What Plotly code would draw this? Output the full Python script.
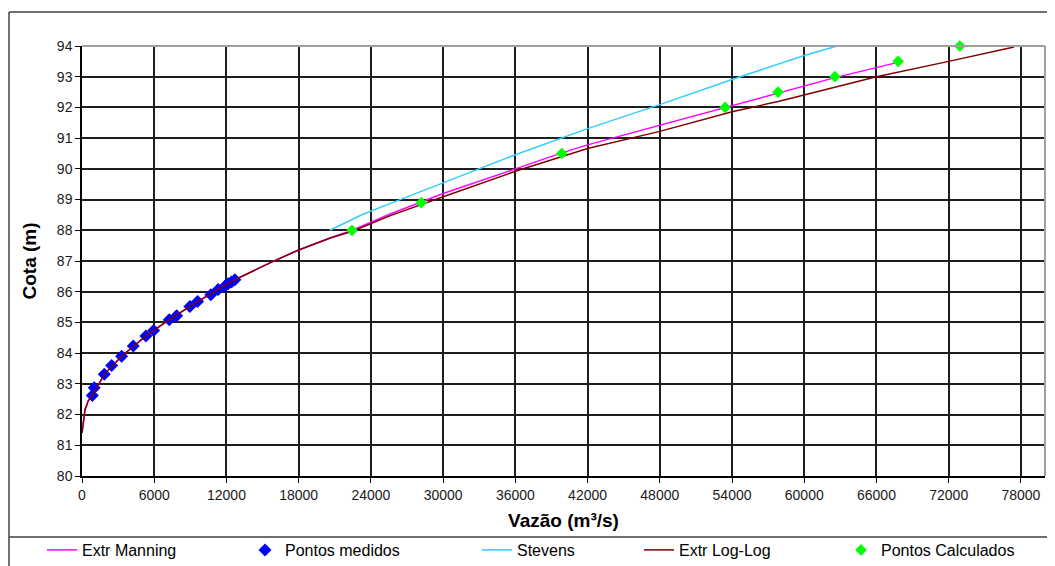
import plotly.graph_objects as go

# ---- data ----
manning_q = [0, 110, 250, 520, 855, 1850, 3290, 5310, 7250, 9600, 12700, 15880, 17950,
             20580, 22460, 25560, 28190, 30000, 36000, 39860, 42000, 48000, 53420, 57820,
             62550, 67600]
manning_h = [81.40, 81.83, 82.16, 82.45, 82.62, 83.31, 83.90, 84.56, 85.09, 85.68, 86.39,
             86.99, 87.35, 87.75, 88.00, 88.52, 88.92, 89.20, 90.00, 90.52, 90.78, 91.42,
             92.00, 92.46, 92.97, 93.45]

loglog_q = [0, 110, 250, 520, 855, 1850, 3290, 5310, 7250, 9600, 12700, 15880, 17950,
            20580, 22460, 25560, 28190, 30000, 36000, 39860, 42000, 48000, 54000, 57920,
            66000, 72000, 77430]
loglog_h = [81.40, 81.83, 82.16, 82.45, 82.62, 83.31, 83.90, 84.56, 85.09, 85.68, 86.39,
            86.99, 87.35, 87.74, 87.97, 88.47, 88.85, 89.09, 89.92, 90.40, 90.66, 91.22,
            91.86, 92.20, 93.00, 93.50, 93.97]

stevens_q = [20580, 23340, 26110, 30000, 36000, 42000, 48000, 54000, 60000, 63790]
stevens_h = [88.00, 88.52, 88.95, 89.54, 90.46, 91.31, 92.09, 92.91, 93.69, 94.12]

medidos_q = [855, 1020, 1850, 2460, 3290, 4260, 5310, 5950, 7250, 7860, 8960, 9600,
             10700, 11310, 11870, 12140, 12420, 12700]
medidos_h = [82.62, 82.87, 83.31, 83.60, 83.90, 84.23, 84.56, 84.74, 85.09, 85.22, 85.52,
             85.68, 85.90, 86.07, 86.18, 86.26, 86.32, 86.39]

calc_q = [22430, 28190, 39860, 53420, 57820, 62550, 67800, 72920]
calc_h = [88.0, 88.9, 90.5, 92.0, 92.5, 93.0, 93.5, 94.0]

x_ticks = list(range(0, 78001, 6000))
y_ticks = list(range(80, 95))

FONT = "Liberation Sans, Arial, sans-serif"

fig = go.Figure()
fig.add_trace(go.Scatter(x=manning_q, y=manning_h, mode="lines", name="Extr Manning",
                         line=dict(color="#ff00ff", width=1.5), legend="legend"))
fig.add_trace(go.Scatter(x=medidos_q, y=medidos_h, mode="markers", name="Pontos medidos",
                         marker=dict(symbol="diamond", color="#0000ff", size=10),
                         legend="legend2"))
fig.add_trace(go.Scatter(x=stevens_q, y=stevens_h, mode="lines", name="Stevens",
                         line=dict(color="#33ccff", width=1.5), legend="legend3"))
fig.add_trace(go.Scatter(x=loglog_q, y=loglog_h, mode="lines", name="Extr Log-Log",
                         line=dict(color="#800000", width=1.5), legend="legend4"))
fig.add_trace(go.Scatter(x=calc_q, y=calc_h, mode="markers", name="Pontos Calculados",
                         marker=dict(symbol="diamond", color="#00ff00", size=9),
                         cliponaxis=False, legend="legend5"))

# page offset from default body margin
OFF = 8
FIG_W, FIG_H = 1055 - OFF, 566 - OFF
# plot area in page pixels
L, R, T, B = 82, 1045, 46, 476
W, H = R - L, B - T


def px(xp):
    return (xp - L) / W


def py(yp):
    return (B - yp) / H


leg_common = dict(orientation="h", yanchor="middle", xanchor="left", bgcolor="rgba(0,0,0,0)",
                  font=dict(family=FONT, size=16, color="#000000"), borderwidth=0)
legend_starts = [42, 245, 477, 639, 841]
layout_leg = {}
for i, s in enumerate(legend_starts):
    key = "legend" if i == 0 else f"legend{i + 1}"
    layout_leg[key] = dict(x=px(s), y=py(550), **leg_common)

fig.update_layout(
    width=FIG_W, height=FIG_H,
    margin=dict(l=L - OFF, r=(1055 - R), t=T - OFF, b=(566 - B), autoexpand=False),
    paper_bgcolor="white", plot_bgcolor="white",
    font=dict(family=FONT, size=14, color="#000000"),
    showlegend=True,
    **layout_leg,
    xaxis=dict(range=[0, 80000], tickvals=x_ticks, ticktext=[str(v) for v in x_ticks],
               showgrid=True, gridcolor="#1e1e1e", gridwidth=1.5,
               showline=True, linecolor="#000000", linewidth=1.5,
               ticks="outside", ticklen=5, tickcolor="#000000",
               tickfont=dict(family=FONT, size=14, color="#1a1a1a"),
               zeroline=False, automargin=False,
               title=dict(text="<b>Vazão (m³/s)</b>", font=dict(family=FONT, size=19),
                          standoff=12)),
    yaxis=dict(range=[80, 94], tickvals=y_ticks, ticktext=[str(v) for v in y_ticks],
               showgrid=True, gridcolor="#1e1e1e", gridwidth=1.5,
               showline=True, linecolor="#000000", linewidth=1.5,
               ticks="outside", ticklen=5, tickcolor="#000000",
               tickfont=dict(family=FONT, size=14, color="#1a1a1a"),
               zeroline=False, automargin=False,
               title=dict(text="<b>Cota (m)</b>", font=dict(family=FONT, size=19),
                          standoff=15)),
)

# gray top/right border of plot area
fig.add_shape(type="line", xref="paper", yref="paper", x0=0, x1=1, y0=1, y1=1,
              line=dict(color="#a0a0a0", width=2))
fig.add_shape(type="line", xref="paper", yref="paper", x0=1, x1=1, y0=0, y1=1,
              line=dict(color="#a0a0a0", width=2))
# outer chart frame and legend separator
fig.add_shape(type="line", xref="paper", yref="paper", x0=px(9), x1=px(1056), y0=py(12), y1=py(12),
              line=dict(color="#404040", width=1.5))
fig.add_shape(type="line", xref="paper", yref="paper", x0=px(9), x1=px(9), y0=py(12), y1=py(567),
              line=dict(color="#404040", width=1.5))
fig.add_shape(type="line", xref="paper", yref="paper", x0=px(9), x1=px(1056), y0=py(537), y1=py(537),
              line=dict(color="#404040", width=1.5))

fig.write_html("out.html")
